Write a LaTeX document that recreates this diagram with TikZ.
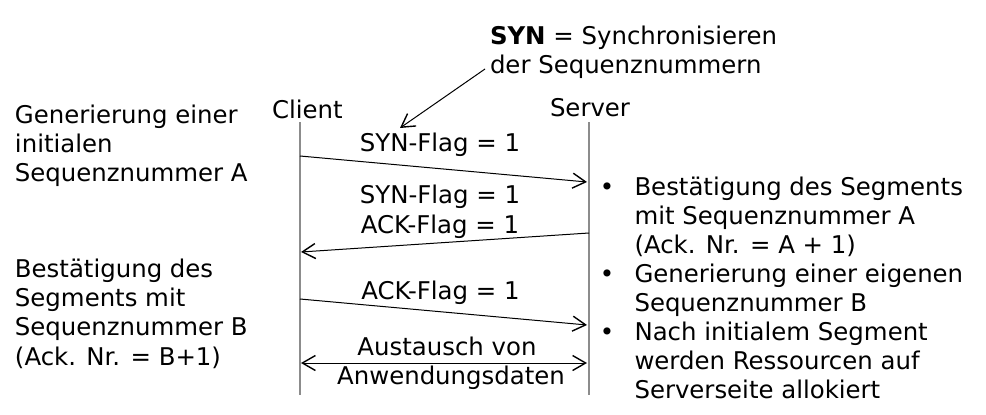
\documentclass[tikz,border=0pt]{standalone}
\usepackage{fontspec}
\setmainfont{DejaVu Sans}
\usetikzlibrary{arrows.meta}
\definecolor{lifegray}{RGB}{140,140,140}
\newcommand\stkL[1]{\vtop{\baselineskip=29.4pt\lineskiplimit=-100pt\lineskip=0pt\halign{##\hfil\cr #1\crcr}}}
\begin{document}
\begin{tikzpicture}[x=1pt,y=-1pt,
  txt/.style={inner sep=0pt,outer sep=0pt,font=\fontsize{24.4}{29.4}\selectfont},
  lifeline/.style={draw=lifegray,line width=1.6pt},
  msg/.style={draw=black,line width=1pt,-{Straight Barb[length=13pt,width=15pt,line width=1.4pt]}},
  msgboth/.style={draw=black,line width=1pt,{Straight Barb[length=13pt,width=15pt,line width=1.4pt]}-{Straight Barb[length=13pt,width=15pt,line width=1.4pt]}}]
\useasboundingbox (0,0) rectangle (986,415);
\fill[white] (0,0) rectangle (986,415);

% participants
\node[txt,anchor=base west] (client) at (272,118) {Client};
\node[txt,anchor=base west] (server) at (550,116) {Server};

% lifelines
\coordinate (ctop) at (300,122);
\coordinate (cbot) at (300,395);
\coordinate (stop) at (589,122);
\coordinate (sbot) at (589,395);
\draw[lifeline] (ctop) -- (cbot);
\draw[lifeline] (stop) -- (sbot);

% messages
\coordinate (m1a) at (300,156);
\coordinate (m1b) at (587,182);
\coordinate (m2a) at (589,233);
\coordinate (m2b) at (301,252);
\coordinate (m3a) at (300,299);
\coordinate (m3b) at (587,325);
\coordinate (m4a) at (301,363);
\coordinate (m4b) at (587,363);
\draw[msg] (m1a) -- (m1b);
\draw[msg] (m2a) -- (m2b);
\draw[msg] (m3a) -- (m3b);
\draw[msgboth] (m4a) -- (m4b);

% message labels
\node[txt,anchor=base] (l1) at (440,151) {SYN-Flag = 1};
\node[txt,anchor=base] (l2a) at (440,203) {SYN-Flag = 1};
\node[txt,anchor=base] (l2b) at (440,233) {ACK-Flag = 1};
\node[txt,anchor=base] (l3) at (440.5,299.5) {ACK-Flag = 1};
\node[txt,anchor=base] (l4a) at (447,355) {Austausch von};
\node[txt,anchor=base] (l4b) at (451,384) {Anwendungsdaten};

% SYN annotation
\node[txt,anchor=base west] (syn) at (490,44) {\stkL{\textbf{SYN} = Synchronisieren\cr der Sequenznummern}};
\coordinate (synfrom) at (485,69);
\coordinate (synto) at (400,128);
\draw[msg] (synfrom) -- (synto);

% left notes
\node[txt,anchor=base west] (left1) at (15,123) {\stkL{Generierung einer\cr initialen\cr Sequenznummer A}};
\node[txt,anchor=base west] (left2) at (15,277) {\stkL{Bestätigung des\cr Segments mit\cr Sequenznummer B\cr (Ack. Nr. = B+1)}};

% right notes
\node[txt,anchor=base] (b1) at (607,195) {•};
\node[txt,anchor=base west] (r1) at (634.5,195) {\stkL{Bestätigung des Segments\cr mit Sequenznummer A\cr (Ack. Nr. = A + 1)}};
\node[txt,anchor=base] (b2) at (607,282) {•};
\node[txt,anchor=base west] (r2) at (634.5,282) {\stkL{Generierung einer eigenen\cr Sequenznummer B}};
\node[txt,anchor=base] (b3) at (607,340) {•};
\node[txt,anchor=base west] (r3) at (634.5,340) {\stkL{Nach initialem Segment\cr werden Ressourcen auf\cr Serverseite allokiert}};
\end{tikzpicture}
\end{document}
